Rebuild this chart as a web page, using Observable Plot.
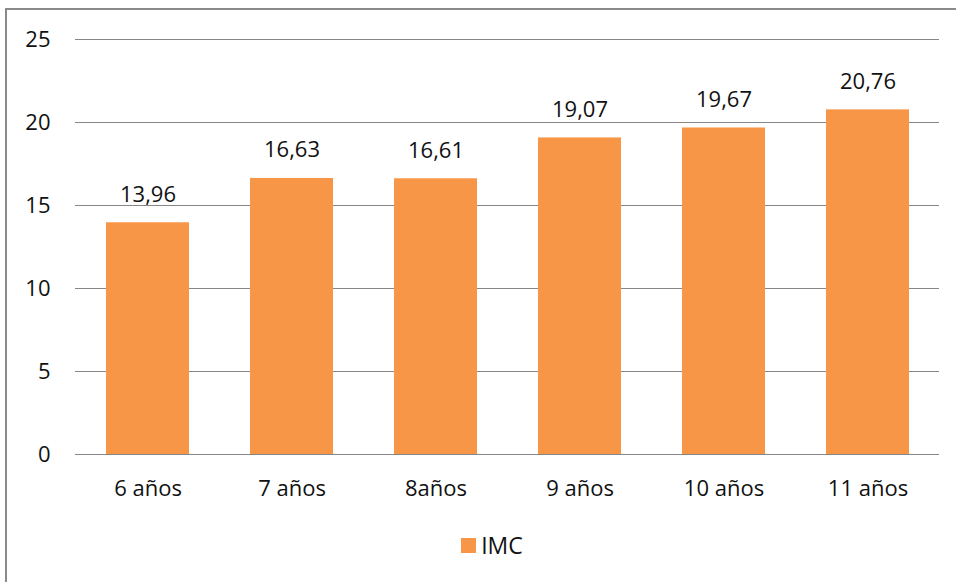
<!DOCTYPE html>
<html>
<head>
<meta charset="utf-8">
<script src="https://cdn.jsdelivr.net/npm/d3@7"></script>
<script src="https://cdn.jsdelivr.net/npm/@observablehq/plot@0.6"></script>
<style>
  html, body { margin: 0; padding: 0; background: #fff; overflow: hidden; }
  body { width: 956px; height: 582px; position: relative; font-family: "Open Sans", "Liberation Sans", sans-serif; }
  #frame { position: absolute; left: 5px; top: 8px; width: 1200px; height: 800px;
           border-left: 2px solid #8a8a8a; border-top: 2px solid #8a8a8a; box-sizing: border-box; }
  #chart { position: absolute; left: 0; top: 0; }
  #legend { position: absolute; left: 0; top: 529px; width: 956px; display: flex; justify-content: center;
            align-items: center; font-size: 23px; color: #111; }
  #legend .sw { width: 15px; height: 15px; background: #F79646; margin-right: 5px; margin-left: 28px; }
</style>
</head>
<body>
<div id="frame"></div>
<div id="chart"></div>
<div id="legend"><span class="sw"></span><span>IMC</span></div>
<script>
const categories = ["6 años", "7 años", "8años", "9 años", "10 años", "11 años"];
const imc = [13.96, 16.63, 16.61, 19.07, 19.67, 20.76];
const labels = ["13,96", "16,63", "16,61", "19,07", "19,67", "20,76"];
const yTicks = [0, 5, 10, 15, 20, 25];

const data = categories.map((c, i) => ({cat: c, v: imc[i], lab: labels[i]}));

const plot = Plot.plot({
  width: 956,
  height: 520,
  marginLeft: 75,
  marginRight: 17,
  marginTop: 39,
  marginBottom: 66,
  style: {fontFamily: "'Open Sans', 'Liberation Sans', sans-serif", fontSize: "22px", color: "#111", background: "transparent"},
  x: {domain: categories, paddingInner: 0.424, paddingOuter: 0.212, align: 0.5, label: null},
  y: {domain: [0, 25], ticks: yTicks, label: null},
  marks: [
    Plot.gridY(yTicks, {stroke: "#878787", strokeOpacity: 1, strokeWidth: 1}),
    Plot.barY(data, {x: "cat", y: "v", fill: "#F79646"}),
    Plot.text(data, {x: "cat", y: "v", text: "lab", dy: -28, fontSize: 22, fill: "#111"}),
    Plot.axisX({tickSize: 0, tickPadding: 26, fontSize: 22, label: null, fill: "#111"}),
    Plot.axisY(yTicks, {tickSize: 0, tickPadding: 0, dx: -25, textAnchor: "end", fontSize: 22, label: null, fill: "#111"})
  ]
});
document.getElementById("chart").appendChild(plot);
</script>
</body>
</html>
